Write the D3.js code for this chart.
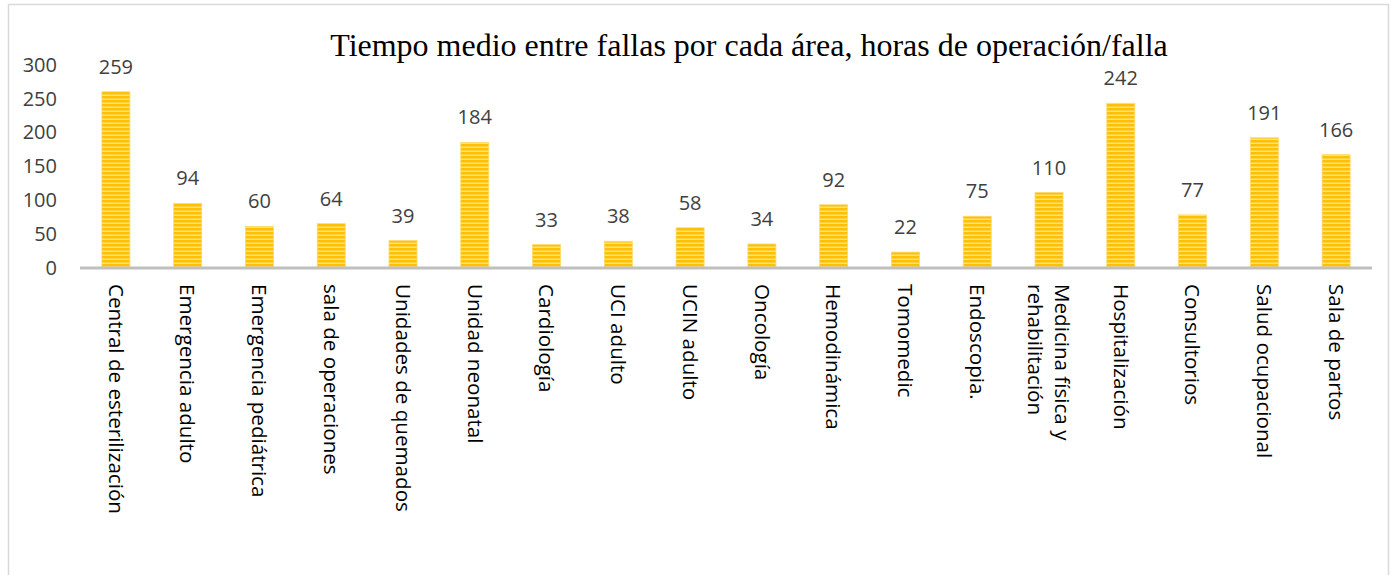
<!DOCTYPE html>
<html>
<head>
<meta charset="utf-8">
<script src="https://cdn.jsdelivr.net/npm/d3@7"></script>
<style>
  body { margin: 0; background: #fff; }
  svg { display: block; }
  .axis-y text { font-family: "Open Sans", sans-serif; font-size: 20px; fill: #404040; }
  .val { font-family: "Open Sans", sans-serif; font-size: 20px; fill: #404040; }
  .cat { font-family: "Open Sans", sans-serif; font-size: 20.6px; fill: #000; }
  .title { font-family: "Liberation Serif", "Times New Roman", serif; font-size: 32px; fill: #000; }
</style>
</head>
<body>
<svg id="chart"></svg>
<script>
// areas (one entry per bar, "\n" = line break in label)
var areas = [
  "Central de esterilización", "Emergencia adulto", "Emergencia pediátrica",
  "sala de operaciones", "Unidades de quemados", "Unidad neonatal",
  "Cardiología", "UCI adulto", "UCIN adulto", "Oncología", "Hemodinámica",
  "Tomomedic", "Endoscopia.", "Medicina física y\nrehabilitación",
  "Hospitalización", "Consultorios", "Salud ocupacional", "Sala de partos"
];
// hours of operation per failure
var mtbf = [259, 94, 60, 64, 39, 184, 33, 38, 58, 34, 92, 22, 75, 110, 242, 77, 191, 166];
var yTicks = [0, 50, 100, 150, 200, 250, 300];
var titleText = "Tiempo medio entre fallas por cada área, horas de operación/falla";

var W = 1391, H = 575;
var margin = {top: 64, left: 80, right: 19, axisY: 267};

var svg = d3.select("#chart").attr("width", W).attr("height", H);

// chart border (bottom edge runs past the picture)
svg.append("rect")
  .attr("x", 8.5).attr("y", 4.5)
  .attr("width", 1380).attr("height", 600)
  .attr("fill", "#fff")
  .attr("stroke", "#d9d9d9")
  .attr("stroke-width", 1.5);

// striped fill
var defs = svg.append("defs");
var pat = defs.append("pattern")
  .attr("id", "stripes")
  .attr("patternUnits", "userSpaceOnUse")
  .attr("width", 8).attr("height", 4);
pat.append("rect").attr("width", 8).attr("height", 4).attr("fill", "#ffc000");
pat.append("rect").attr("y", 2.5).attr("width", 8).attr("height", 1.5).attr("fill", "#ffe08a");

var x = d3.scaleBand()
  .domain(d3.range(areas.length))
  .range([margin.left, W - margin.right])
  .paddingInner(0.61)
  .paddingOuter(0.305);

var y = d3.scaleLinear()
  .domain([0, 300])
  .range([margin.axisY, margin.top]);

// title
svg.append("text")
  .attr("class", "title")
  .attr("x", 749).attr("y", 56)
  .attr("text-anchor", "middle")
  .text(titleText);

// y axis (labels only)
var yAxis = d3.axisLeft(y).tickValues(yTicks).tickSize(0).tickPadding(0);
var gy = svg.append("g")
  .attr("class", "axis-y")
  .attr("transform", "translate(57,0)")
  .call(yAxis);
gy.select(".domain").remove();
gy.selectAll("text").attr("dy", "0.36em");

// bars
svg.selectAll(".bar")
  .data(mtbf)
  .enter().append("rect")
  .attr("class", "bar")
  .attr("x", function (d, i) { return x(i); })
  .attr("y", function (d) { return y(d); })
  .attr("width", x.bandwidth())
  .attr("height", function (d) { return y(0) - y(d); })
  .attr("fill", "url(#stripes)")
  .attr("stroke", "#ffd966")
  .attr("stroke-width", 0.8);

// value labels
svg.selectAll(".val")
  .data(mtbf)
  .enter().append("text")
  .attr("class", "val")
  .attr("x", function (d, i) { return x(i) + x.bandwidth() / 2; })
  .attr("y", function (d) { return y(d) - 18; })
  .attr("text-anchor", "middle")
  .text(function (d) { return d; });

// x axis line
svg.append("line")
  .attr("x1", margin.left).attr("x2", W - margin.right)
  .attr("y1", y(0) + 1).attr("y2", y(0) + 1)
  .attr("stroke", "#bfbfbf")
  .attr("stroke-width", 3);

// rotated category labels
var cats = svg.selectAll(".cat")
  .data(areas)
  .enter().append("text")
  .attr("class", "cat")
  .attr("transform", function (d, i) {
    return "translate(" + (x(i) + x.bandwidth() / 2) + ",284) rotate(90)";
  });

cats.each(function (d) {
  var lines = d.split("\n");
  var t = d3.select(this);
  lines.forEach(function (ln, k) {
    t.append("tspan")
      .attr("x", 0)
      .attr("dy", k === 0 ? (0.36 * 20 - (lines.length - 1) * 13.5) + "px" : "27px")
      .text(ln);
  });
});
</script>
</body>
</html>
